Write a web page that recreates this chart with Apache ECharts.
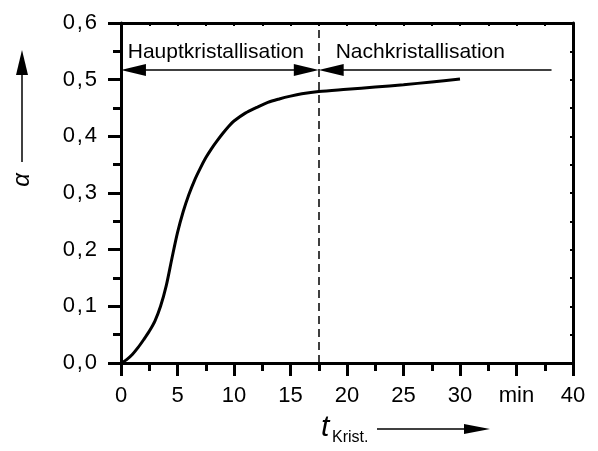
<!DOCTYPE html>
<html>
<head>
<meta charset="utf-8">
<script src="https://cdn.jsdelivr.net/npm/echarts@6/dist/echarts.min.js"></script>
<style>
  html, body { margin: 0; padding: 0; background: #fff; }
  #main { width: 598px; height: 451px; }
</style>
</head>
<body>
<div id="main"></div>
<script>
// Kristallisationsverlauf alpha(t)
var tKrist = [0, 0.5, 1, 1.5, 2, 2.5, 3, 3.5, 4, 4.5, 5, 5.5, 6, 6.5, 7, 7.5, 8, 8.5, 9, 9.5, 10,
              11, 12, 13, 14, 15, 16, 17.5, 20, 22.5, 25, 27.5, 30];
var alpha  = [0, 0.006, 0.015, 0.027, 0.041, 0.056, 0.074, 0.1, 0.136, 0.184, 0.23, 0.267, 0.297, 0.322, 0.343, 0.362, 0.378, 0.392, 0.405, 0.417, 0.427,
              0.441, 0.451, 0.46, 0.466, 0.471, 0.475, 0.479, 0.483, 0.487, 0.491, 0.496, 0.501];

var tGrenze = 17.5;       // Grenze Haupt-/Nachkristallisation
var pfeilHoehe = 0.517;   // Hoehe der Pfeile
var pfeilEnde = 38.1;
var xTicks = [0, 5, 10, 15, 20, 25, 30, 35, 40];
var xLabels = ['0', '5', '10', '15', '20', '25', '30', 'min', '40'];
var yTicks = [0, 0.1, 0.2, 0.3, 0.4, 0.5, 0.6];
var yLabels = ['0,0', '0,1', '0,2', '0,3', '0,4', '0,5', '0,6'];

var FONT = '"Liberation Sans", Arial, sans-serif';
var h = 1.1; // halbe Pfeilspitzenlaenge in x-Einheiten

var chart = echarts.init(document.getElementById('main'));

var kurve = [];
for (var i = 0; i < tKrist.length; i++) kurve.push([tKrist[i], alpha[i]]);

function xLab(v) {
    var k = xTicks.indexOf(v);
    return k >= 0 ? xLabels[k] : '';
}
function yLab(v) {
    for (var k = 0; k < yTicks.length; k++) {
        if (Math.abs(yTicks[k] - v) < 1e-6) return yLabels[k].replace(',', '\u200a,\u200a');
    }
    return '';
}

var option = {
    animation: false,
    backgroundColor: '#fff',
    grid: { left: 121, right: 25, top: 23, bottom: 88 },
    xAxis: [
        {
            type: 'value', min: 0, max: 40, interval: 5,
            axisLine: { show: true, onZero: false, lineStyle: { color: '#000', width: 3 } },
            axisTick: { show: true, length: 13, lineStyle: { color: '#000', width: 3 } },
            minorTick: { show: true, splitNumber: 2, length: 8, lineStyle: { color: '#000', width: 3 } },
            splitLine: { show: false },
            axisLabel: { color: '#000', fontSize: 22, fontFamily: FONT, margin: 22, formatter: xLab }
        },
        {
            type: 'value', min: 0, max: 40, interval: 5, position: 'top',
            axisLine: { show: true, onZero: false, lineStyle: { color: '#000', width: 3 } },
            axisTick: { show: true, inside: true, length: 3, lineStyle: { color: '#000', width: 2 } },
            minorTick: { show: true, splitNumber: 2, length: 3, lineStyle: { color: '#000', width: 2 } },
            splitLine: { show: false },
            axisLabel: { show: false }
        }
    ],
    yAxis: [
        {
            type: 'value', min: 0, max: 0.6, interval: 0.1,
            axisLine: { show: true, onZero: false, lineStyle: { color: '#000', width: 3 } },
            axisTick: { show: true, length: 13, lineStyle: { color: '#000', width: 3 } },
            minorTick: { show: true, splitNumber: 2, length: 8, lineStyle: { color: '#000', width: 3 } },
            splitLine: { show: false },
            axisLabel: { color: '#000', fontSize: 22, fontFamily: FONT, margin: 24, formatter: yLab }
        },
        {
            type: 'value', min: 0, max: 0.6, interval: 0.1, position: 'right',
            axisLine: { show: true, onZero: false, lineStyle: { color: '#000', width: 3 } },
            axisTick: { show: true, inside: true, length: 3, lineStyle: { color: '#000', width: 2 } },
            minorTick: { show: true, splitNumber: 2, length: 3, lineStyle: { color: '#000', width: 2 } },
            splitLine: { show: false },
            axisLabel: { show: false }
        }
    ],
    series: [
        {
            type: 'line',
            data: kurve,
            smooth: 0.3,
            showSymbol: false,
            lineStyle: { color: '#000', width: 3 },
            markLine: {
                silent: true,
                animation: false,
                symbolSize: [12, 25],
                label: { show: false },
                lineStyle: { color: '#000', width: 1.5, type: 'solid' },
                data: [
                    [{ coord: [0 + h, pfeilHoehe], symbol: 'triangle' }, { coord: [tGrenze - h, pfeilHoehe], symbol: 'triangle' }],
                    [{ coord: [pfeilEnde, pfeilHoehe], symbol: 'none' }, { coord: [tGrenze + h, pfeilHoehe], symbol: 'triangle' }],
                    [{ coord: [tGrenze, 0], symbol: 'none', lineStyle: { type: [8, 5], width: 1.5 } }, { coord: [tGrenze, 0.6], symbol: 'none' }]
                ]
            },
            markPoint: {
                silent: true,
                symbol: 'circle',
                symbolSize: 0,
                label: {
                    show: true, position: 'right', distance: 0,
                    color: '#000', fontSize: 21, fontFamily: FONT,
                    formatter: function (p) { return p.name; }
                },
                data: [
                    { name: 'Hauptkristallisation', coord: [0.6, 0.549] },
                    { name: 'Nachkristallisation', coord: [19.0, 0.549] }
                ]
            }
        }
    ],
    graphic: [
        { type: 'text', x: 22, y: 180, rotation: Math.PI / 2,
          style: { text: 'α', font: 'italic 24px ' + FONT, fill: '#000', textAlign: 'center', textVerticalAlign: 'middle' } },
        { type: 'line', shape: { x1: 22, y1: 162, x2: 22, y2: 70 }, style: { stroke: '#000', lineWidth: 1.5 } },
        { type: 'polygon', shape: { points: [[22, 50], [16, 75], [28, 75]] }, style: { fill: '#000' } },
        { type: 'text', x: 321, y: 428,
          style: { text: 't', font: 'italic 30px ' + FONT, fill: '#000', textAlign: 'left', textVerticalAlign: 'middle' } },
        { type: 'text', x: 332, y: 438,
          style: { text: 'Krist.', font: '16px ' + FONT, fill: '#000', textAlign: 'left', textVerticalAlign: 'middle' } },
        { type: 'line', shape: { x1: 377, y1: 429, x2: 468, y2: 429 }, style: { stroke: '#000', lineWidth: 1.5 } },
        { type: 'polygon', shape: { points: [[490, 429], [464, 424], [464, 434]] }, style: { fill: '#000' } }
    ]
};
chart.setOption(option);
</script>
</body>
</html>
